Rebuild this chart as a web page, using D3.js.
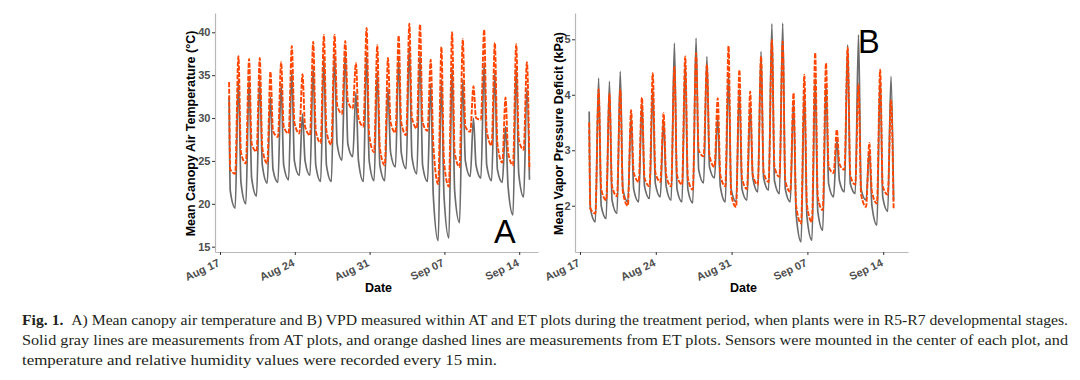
<!DOCTYPE html>
<html><head><meta charset="utf-8">
<script src="https://cdn.jsdelivr.net/npm/d3@7"></script>
<style>
body{margin:0;background:#fff;}
svg{display:block;}
</style></head><body>
<svg id="chart" width="1080" height="380"></svg>
<script>
// ---------- tick labels ----------
const tickDates = ["2021-08-17","2021-08-24","2021-08-31","2021-09-07","2021-09-14"];
const tickLabels = ["Aug 17","Aug 24","Aug 31","Sep 07","Sep 14"];
const tempTicks = [15,20,25,30,35,40];
const vpdTicks = [2,3,4,5];

// ---------- daily key values (day k = 0..28, k=0 is Aug 17) ----------
// afternoon peak of day k
const tempAT_peak = [32.5,34.5,34.5,34.5,32.5,34.0,35.5,30.5,36.0,37.0,37.5,37.8,33.0,37.5,35.5,33.5,37.0,38.5,37.5,34.0,34.5,36.0,34.5,30.0,36.5,35.5,29.0,36.0,33.5];
// late evening value after the peak of day k
const tempAT_eve  = [21.5,22.5,23.0,24.5,24.0,24.5,25.0,25.0,24.5,24.5,27.0,27.0,25.0,25.0,24.5,26.0,26.0,25.5,24.5,21.0,21.0,21.5,25.0,24.5,24.5,24.0,22.0,23.5,22.8];
// early-morning minimum of day k (k = 1..28)
const tempAT_min  = [19.5,20.0,20.9,22.4,22.5,22.8,23.3,23.3,22.6,22.6,25.1,25.5,22.6,22.7,22.7,24.3,24.1,23.5,22.6,15.7,16.0,17.8,23.2,23.0,22.7,22.5,18.7,20.8];

const tempET_peak = [34.2,37.2,36.9,37.0,35.4,36.5,38.4,35.1,38.9,39.7,39.7,39.0,36.4,40.5,38.5,37.0,39.6,41.0,40.9,36.8,38.3,40.0,39.2,33.7,40.3,38.8,32.4,38.6,36.5];
const tempET_eve  = [24.0,26.0,27.0,26.5,28.5,29.0,29.5,29.0,28.5,28.5,31.5,32.0,30.0,28.0,26.5,29.5,29.5,30.0,29.5,27.0,25.0,26.0,29.0,30.0,28.5,27.0,26.0,27.5,24.0];
const tempET_min  = [23.5,24.7,26.1,24.7,27.8,28.2,28.2,28.0,27.1,26.9,30.5,31.1,29.0,26.0,24.5,28.3,28.0,28.8,28.5,22.3,22.0,24.3,28.4,29.8,26.8,24.8,24.5,26.3];

const vpdAT_peak = [3.7,4.30,4.24,4.42,3.6,3.85,4.1,3.55,4.93,4.6,5.02,4.69,3.6,4.4,4.1,3.8,4.78,5.28,5.29,3.9,4.1,4.3,4.2,3.2,4.9,5.08,3.0,4.3,4.33];
const vpdAT_eve  = [1.95,2.0,2.1,2.3,2.3,2.35,2.4,2.35,2.3,2.3,2.65,2.7,2.35,2.3,2.3,2.5,2.5,2.45,2.3,1.85,1.8,1.9,2.4,2.45,2.4,2.3,2.0,2.15,2.1];
const vpdAT_min  = [1.71,1.77,1.86,2.07,2.07,2.13,2.16,2.1,2.07,2.05,2.41,2.5,2.07,2.07,2.1,2.25,2.28,2.22,2.07,1.35,1.38,1.56,2.16,2.25,2.22,2.1,1.65,1.9];

const vpdET_peak = [3.5,4.10,4.02,4.1,3.72,3.95,4.39,3.67,4.5,4.69,4.75,4.55,3.94,4.88,4.45,4.06,4.69,4.99,4.96,4.03,4.36,4.76,4.57,3.37,4.85,4.2,3.13,4.45,3.9];
const vpdET_eve  = [1.95,2.3,2.35,2.25,2.6,2.5,2.6,2.55,2.55,2.5,3.0,2.9,2.55,2.2,2.5,2.55,2.6,2.7,2.45,2.0,2.0,2.15,2.7,2.75,2.55,2.2,2.25,2.35,1.95];
const vpdET_min  = [1.86,2.1,2.17,2.0,2.43,2.35,2.43,2.35,2.38,2.29,2.89,2.7,2.35,1.98,2.3,2.38,2.43,2.52,2.25,1.68,1.71,1.92,2.59,2.65,2.38,1.98,2.04,2.2];

// time-of-day (fraction of day) at which each key value was read
const START_FRAC = 0.85, MIN_FRAC = 0.42, PEAK_FRAC = 0.72, EVE_FRAC = 0.96;

const captionLines = [
  "A) Mean canopy air temperature and B) VPD measured within AT and ET plots during the treatment period, when plants were in R5-R7 developmental stages.",
  "Solid gray lines are measurements from AT plots, and orange dashed lines are measurements from ET plots. Sensors were mounted in the center of each plot, and",
  "temperature and relative humidity values were recorded every 15 min."
];

// ---------- helpers ----------
const DAY = 86400000;
const base = new Date(Date.UTC(2021,7,17));
const at = d => new Date(base.getTime() + d*DAY);
function series(peak, eve, min){
  const pts = [{t:at(START_FRAC), v:peak[0]}, {t:at(EVE_FRAC), v:eve[0]}];
  for(let k=1;k<peak.length;k++){
    pts.push({t:at(k+MIN_FRAC), v:min[k-1]});
    pts.push({t:at(k+PEAK_FRAC), v:peak[k]});
    pts.push({t:at(k+EVE_FRAC), v:eve[k]});
  }
  return pts;
}

const svg = d3.select("#chart");
const GRAY = "#6b6b6b", ORANGE = "#ff4500";

function panel(cfg){
  const g = svg.append("g");
  const x = d3.scaleTime().domain([at(cfg.d0), at(cfg.d1)]).range([cfg.left, cfg.right]);
  const y = d3.scaleLinear().domain(cfg.ydom).range([cfg.bottom, cfg.top]);

  const line = d3.line().x(d=>x(d.t)).y(d=>y(d.v)).curve(d3.curveMonotoneX);
  g.append("path").datum(cfg.at).attr("d", line)
    .attr("fill","none").attr("stroke",GRAY).attr("stroke-width",1.7).attr("stroke-linejoin","round");
  g.append("path").datum(cfg.et).attr("d", line)
    .attr("fill","none").attr("stroke",ORANGE).attr("stroke-width",1.9)
    .attr("stroke-dasharray","5,1.5").attr("stroke-linejoin","round");

  // axes
  const xa = g.append("g").attr("transform",`translate(0,${cfg.bottom})`)
    .call(d3.axisBottom(x).tickValues(tickDates.map(s=>new Date(s+"T00:00:00Z")))
      .tickFormat((d,i)=>tickLabels[i]).tickSize(3).tickSizeOuter(0));
  const ya = g.append("g").attr("transform",`translate(${cfg.left},0)`)
    .call(d3.axisLeft(y).tickValues(cfg.yticks).tickFormat(d3.format("d")).tickSize(3).tickSizeOuter(0).tickPadding(1.5));
  [xa,ya].forEach(a=>{
    a.select(".domain").attr("stroke","#b8b8b8").attr("stroke-width",1.2);
    a.selectAll(".tick line").attr("stroke","#333").attr("stroke-width",1);
    a.selectAll("text").attr("fill","#4d4d4d").attr("font-family","Liberation Sans, Arial, sans-serif")
      .attr("font-weight","bold").attr("font-size","11px");
  });
  xa.selectAll(".tick text").attr("y",0).attr("dy",0).attr("x",0)
    .attr("text-anchor","end").attr("transform","translate(0,13.5) rotate(-25)");

  // titles
  g.append("text").attr("transform",`translate(${cfg.ytitleX},${(cfg.top+cfg.bottom)/2+1}) rotate(-90)`)
    .attr("text-anchor","middle").attr("font-family","Liberation Sans, Arial, sans-serif")
    .attr("font-weight","bold").attr("font-size","12.5px").attr("fill","#000").text(cfg.ytitle);
  g.append("text").attr("x",(cfg.left+cfg.right)/2+2).attr("y",292)
    .attr("text-anchor","middle").attr("font-family","Liberation Sans, Arial, sans-serif")
    .attr("font-weight","bold").attr("font-size","12.5px").attr("fill","#000").text("Date");
  g.append("text").attr("x",cfg.letterX).attr("y",cfg.letterY)
    .attr("font-family","Liberation Sans, Arial, sans-serif").attr("font-size","32.5px")
    .attr("fill","#000").text(cfg.letter);
}

panel({left:215, right:538, top:13, bottom:252, d0:-0.47, d1:29.76,
  ydom:[14.38,42.25], yticks:tempTicks,
  at:series(tempAT_peak,tempAT_eve,tempAT_min), et:series(tempET_peak,tempET_eve,tempET_min),
  ytitle:"Mean Canopy Air Temperature (°C)", ytitleX:195, letter:"A", letterX:494, letterY:243.3});

panel({left:575, right:908, top:13, bottom:252, d0:-0.46, d1:30.29,
  ydom:[1.166,5.474], yticks:vpdTicks,
  at:series(vpdAT_peak,vpdAT_eve,vpdAT_min), et:series(vpdET_peak,vpdET_eve,vpdET_min),
  ytitle:"Mean Vapor Pressure Deficit (kPa)", ytitleX:563, letter:"B", letterX:858, letterY:52.7});

// caption
const cap = svg.append("g").attr("font-family","Liberation Serif, Times New Roman, serif")
  .attr("font-size","14.5px").attr("fill","#231f20");
const t1 = cap.append("text").attr("x",22).attr("y",325).attr("textLength",1046).attr("lengthAdjust","spacingAndGlyphs");
t1.append("tspan").attr("font-weight","bold").text("Fig. 1.");
t1.append("tspan").text("\u00a0\u00a0" + captionLines[0]);
cap.append("text").attr("x",22).attr("y",345).attr("textLength",1046).attr("lengthAdjust","spacingAndGlyphs").text(captionLines[1]);
cap.append("text").attr("x",22).attr("y",365).attr("textLength",475).attr("lengthAdjust","spacingAndGlyphs").text(captionLines[2]);
</script>
</body></html>
